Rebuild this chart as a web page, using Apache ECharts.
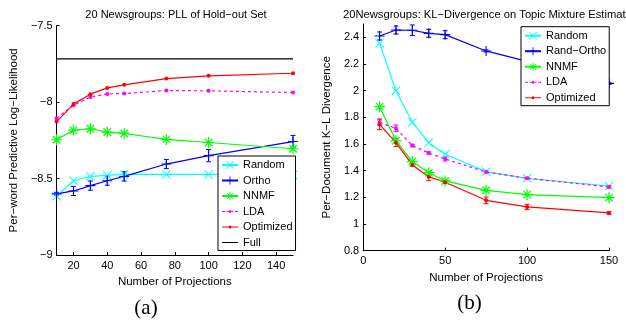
<!DOCTYPE html>
<html>
<head>
<meta charset="utf-8">
<script src="https://cdn.jsdelivr.net/npm/echarts@6/dist/echarts.min.js"></script>
<style>
  html, body { margin: 0; padding: 0; background: #fff; }
  #wrap { width: 626px; height: 322px; display: flex; }
  .chart { width: 313px; height: 322px; }
</style>
</head>
<body>
<div id="wrap">
  <div id="chartA" class="chart"></div>
  <div id="chartB" class="chart"></div>
</div>
<script>
const projections = [10, 20, 30, 40, 50, 75, 100, 150]

// (a) per-word predictive log-likelihood
const pllRandom = [-8.616, -8.514, -8.486, -8.479, -8.473, -8.473, -8.473, -8.477]
const pllOrtho = [-8.600, -8.581, -8.546, -8.514, -8.486, -8.405, -8.350, -8.258]
const pllOrthoErr = [0.01, 0.03, 0.03, 0.03, 0.03, 0.03, 0.04, 0.04]
const pllNnmf = [-8.246, -8.183, -8.174, -8.196, -8.205, -8.244, -8.264, -8.305]
const pllLda = [-8.105, -8.020, -7.967, -7.946, -7.944, -7.924, -7.926, -7.937]
const pllOptimized = [-8.127, -8.013, -7.948, -7.907, -7.887, -7.846, -7.828, -7.811]
const pllFull = -7.717
const pllXTicks = [20, 40, 60, 80, 100, 120, 140]

// (b) per-document K-L divergence
const klRandom = [2.356, 2.000, 1.763, 1.610, 1.523, 1.393, 1.343, 1.285]
const klRandOrtho = [2.410, 2.455, 2.453, 2.430, 2.420, 2.298, 2.220, 2.055]
const klRandOrthoErr = [0.03, 0.03, 0.04, 0.03, 0.03, 0.008, 0.008, 0.008]
const klNnmf = [1.880, 1.625, 1.468, 1.385, 1.323, 1.253, 1.220, 1.198]
const klLda = [1.760, 1.718, 1.588, 1.533, 1.488, 1.390, 1.343, 1.278]
const klLdaErr = [0.02, 0.025, 0.01, 0.008, 0.015, 0.01, 0.008, 0.008]
const klOptimized = [1.748, 1.610, 1.443, 1.355, 1.313, 1.178, 1.128, 1.083]
const klOptimizedErr = [0.04, 0.03, 0.01, 0.03, 0.01, 0.025, 0.02, 0.01]
const klYTicks = [0.8, 1, 1.2, 1.4, 1.6, 1.8, 2, 2.2, 2.4]

const FONT = '"Liberation Sans", Arial, sans-serif'
const CYAN = '#00ffff'
const BLUE = '#0000ff'
const GREEN = '#00ff00'
const MAGENTA = '#ff00ff'
const RED = '#ff0000'

const SYM_PLUS = 'path://M4.45,0H5.55V10H4.45ZM0,4.45H10V5.55H0Z'
const SYM_CROSS = 'path://M0,0.78L0.78,0L10,9.22L9.22,10ZM9.22,0L10,0.78L0.78,10L0,9.22Z'
const SYM_STAR = 'path://M4.45,0H5.55V10H4.45ZM0,4.45H10V5.55H0ZM1.2,1.98L1.98,1.2L8.8,8.02L8.02,8.8ZM8.02,1.2L8.8,1.98L1.98,8.8L1.2,8.02Z'

// legend icons drawn as thin paths (line + dot) so they keep their proportions
const ICON_DASH_DOT = 'path://M0,1H3V2H0ZM4.5,1H6.3V2H4.5ZM9.7,1H11.5V2H9.7ZM13,1H16V2H13ZM8,0A1.5,1.5 0 1 1 8,3A1.5,1.5 0 1 1 8,0Z'
const ICON_LINE_DOT = 'path://M0,1H6.5V2H0ZM9.5,1H16V2H9.5ZM8,0A1.5,1.5 0 1 1 8,3A1.5,1.5 0 1 1 8,0Z'
const ICON_LINE = 'path://M0,0H16V1H0Z'

const minus = v => String(v).replace('-', '\u2212')
const pts = vals => projections.map((x, i) => [x, vals[i]])

function lineSeries(name, vals, color, symbol, size, dashed) {
  return {
    name,
    type: 'line',
    data: pts(vals),
    symbol,
    symbolSize: size,
    showSymbol: true,
    lineStyle: { color, width: 1.2, type: dashed ? [3, 3] : 'solid' },
    itemStyle: { color, borderWidth: 0 },
    emphasis: { disabled: true },
    silent: true,
  }
}

function errorSeries(vals, errs, color) {
  return {
    type: 'custom',
    silent: true,
    data: projections.map((x, i) => [x, vals[i] - errs[i], vals[i] + errs[i]]),
    encode: { x: 0, y: [1, 2] },
    renderItem: (params, api) => {
      const lo = api.coord([api.value(0), api.value(1)])
      const hi = api.coord([api.value(0), api.value(2)])
      const c = 2.5
      const st = { stroke: color, lineWidth: 1 }
      return {
        type: 'group',
        children: [
          { type: 'line', shape: { x1: lo[0], y1: lo[1], x2: hi[0], y2: hi[1] }, style: st },
          { type: 'line', shape: { x1: lo[0] - c, y1: lo[1], x2: lo[0] + c, y2: lo[1] }, style: st },
          { type: 'line', shape: { x1: hi[0] - c, y1: hi[1], x2: hi[0] + c, y2: hi[1] }, style: st },
        ],
      }
    },
  }
}

function axisBase() {
  return {
    type: 'value',
    axisLine: { show: true, lineStyle: { color: '#000', width: 1 } },
    axisTick: { show: true, inside: true, length: 3, lineStyle: { color: '#000' } },
    axisLabel: { color: '#000', fontFamily: FONT, fontSize: 11 },
    splitLine: { show: false },
    nameTextStyle: { color: '#000', fontFamily: FONT, fontSize: 11.5 },
  }
}

function legendBase(left, top, names) {
  return {
    data: names,
    orient: 'vertical',
    left,
    top,
    padding: [2, 3, 1, 3],
    itemWidth: 16,
    itemHeight: 10,
    itemGap: 1.5,
    symbolKeepAspect: true,
    borderColor: '#000',
    borderWidth: 1,
    backgroundColor: '#fff',
    selectedMode: false,
    textStyle: { color: '#000', fontFamily: FONT, fontSize: 11, lineHeight: 14 },
    z: 10,
  }
}

// ---------- chart (a) ----------
const chartA = echarts.init(document.getElementById('chartA'))
chartA.setOption({
  animation: false,
  title: {
    text: '20 Newsgroups: PLL of Hold\u2212out Set',
    left: 171,
    textAlign: 'center',
    top: 4,
    textStyle: { color: '#000', fontFamily: FONT, fontSize: 11, fontWeight: 'normal' },
  },
  legend: legendBase(218, 156, [
    'Random',
    'Ortho',
    'NNMF',
    { name: 'LDA', icon: ICON_DASH_DOT },
    { name: 'Optimized', icon: ICON_LINE_DOT },
    { name: 'Full', icon: ICON_LINE },
  ]),
  grid: { left: 48, right: 20, top: 25.7, bottom: 67 },
  xAxis: Object.assign(axisBase(), {
    min: 10,
    max: 150,
    name: 'Number of Projections',
    nameLocation: 'middle',
    nameGap: 16,
    axisTick: { show: true, inside: true, length: 3, lineStyle: { color: '#000' }, customValues: pllXTicks },
    axisLabel: { color: '#000', fontFamily: FONT, fontSize: 11, margin: 5, customValues: pllXTicks },
  }),
  yAxis: Object.assign(axisBase(), {
    min: -9,
    max: -7.5,
    interval: 0.5,
    name: 'Per\u2212word Predictive Log\u2212Likelihood',
    nameLocation: 'middle',
    nameGap: 27,
    axisLabel: { color: '#000', fontFamily: FONT, fontSize: 11, margin: 4, formatter: minus },
  }),
  graphic: [{
    type: 'text',
    x: 146,
    y: 308,
    style: { text: '(a)', fill: '#000', font: '21px "Liberation Serif", "Times New Roman", serif', textAlign: 'center', textVerticalAlign: 'middle' },
  }],
  series: [
    lineSeries('Random', pllRandom, CYAN, SYM_CROSS, 9),
    errorSeries(pllOrtho, pllOrthoErr, BLUE),
    lineSeries('Ortho', pllOrtho, BLUE, SYM_PLUS, 10),
    lineSeries('NNMF', pllNnmf, GREEN, SYM_STAR, 11),
    lineSeries('LDA', pllLda, MAGENTA, 'circle', 4, true),
    lineSeries('Optimized', pllOptimized, RED, 'circle', 4),
    {
      name: 'Full',
      type: 'line',
      data: [[10, pllFull], [150, pllFull]],
      symbol: 'none',
      lineStyle: { color: '#000', width: 1.2 },
      itemStyle: { color: '#000' },
      silent: true,
    },
  ],
})

// ---------- chart (b) ----------
const chartB = echarts.init(document.getElementById('chartB'))
chartB.setOption({
  animation: false,
  title: {
    text: '20Newsgroups: KL\u2212Divergence on Topic Mixture Estimate',
    left: 25,
    top: 4,
    textStyle: { color: '#000', fontFamily: FONT, fontSize: 11.2, fontWeight: 'normal' },
  },
  legend: legendBase(208, 26.7, [
    'Random',
    'Rand\u2212Ortho',
    'NNMF',
    { name: 'LDA', icon: ICON_DASH_DOT },
    { name: 'Optimized', icon: ICON_LINE_DOT },
  ]),
  grid: { left: 47, right: 17, top: 24, bottom: 71.3 },
  xAxis: Object.assign(axisBase(), {
    min: 0,
    max: 150,
    interval: 50,
    name: 'Number of Projections',
    nameLocation: 'middle',
    nameGap: 15,
    axisLabel: { color: '#000', fontFamily: FONT, fontSize: 11, margin: 5 },
  }),
  yAxis: Object.assign(axisBase(), {
    min: 0.8,
    max: 2.5,
    name: 'Per\u2212Document K\u2212L Divergence',
    nameLocation: 'middle',
    nameGap: 21,
    axisTick: { show: true, inside: true, length: 3, lineStyle: { color: '#000' }, customValues: klYTicks },
    axisLabel: { color: '#000', fontFamily: FONT, fontSize: 11, margin: 4, customValues: klYTicks },
  }),
  graphic: [{
    type: 'text',
    x: 156.5,
    y: 303,
    style: { text: '(b)', fill: '#000', font: '21px "Liberation Serif", "Times New Roman", serif', textAlign: 'center', textVerticalAlign: 'middle' },
  }],
  series: [
    lineSeries('Random', klRandom, CYAN, SYM_CROSS, 9),
    errorSeries(klRandOrtho, klRandOrthoErr, BLUE),
    lineSeries('Rand\u2212Ortho', klRandOrtho, BLUE, SYM_PLUS, 10),
    lineSeries('NNMF', klNnmf, GREEN, SYM_STAR, 11),
    errorSeries(klLda, klLdaErr, MAGENTA),
    lineSeries('LDA', klLda, MAGENTA, 'circle', 4, true),
    errorSeries(klOptimized, klOptimizedErr, RED),
    lineSeries('Optimized', klOptimized, RED, 'circle', 4),
  ],
})
</script>
</body>
</html>
